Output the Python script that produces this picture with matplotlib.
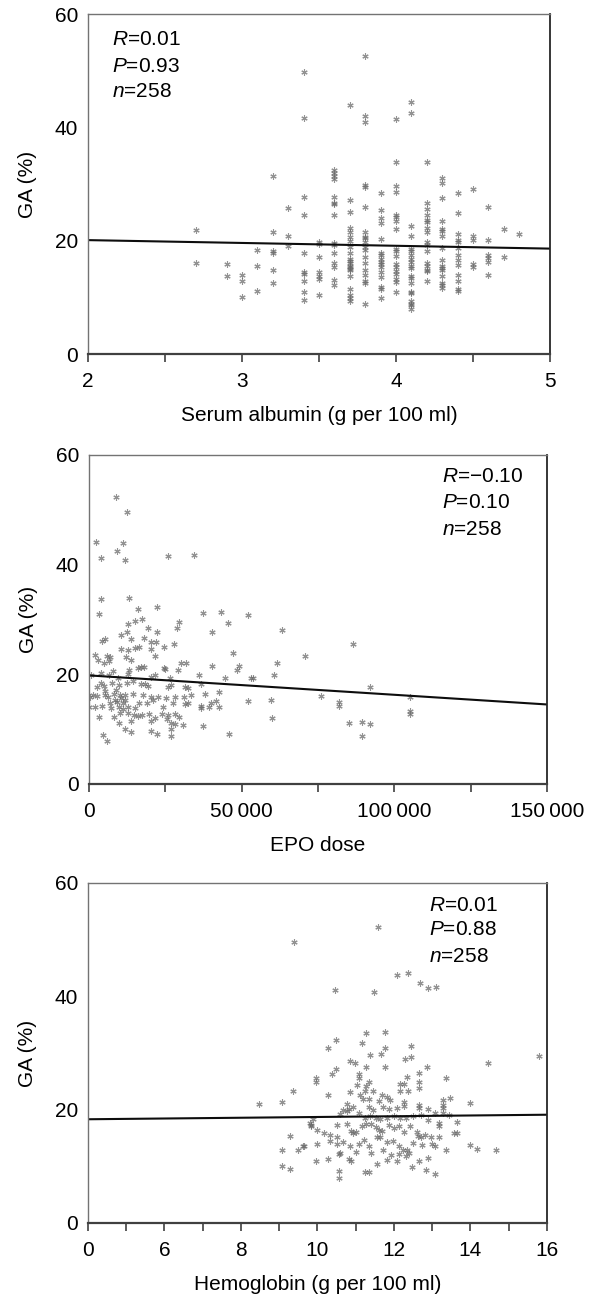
import matplotlib
matplotlib.use("Agg")
import matplotlib.pyplot as plt
from matplotlib.ticker import FixedLocator, FuncFormatter

plt.rcParams["font.family"] = ["Liberation Sans", "DejaVu Sans"]
plt.rcParams["mathtext.fontset"] = "custom"
plt.rcParams["mathtext.rm"] = "Liberation Sans"
plt.rcParams["mathtext.it"] = "Liberation Sans:italic"

FS = 15

# ---- Serum albumin vs GA ----
albumin_x = ([2.7] * 2 + [2.9] * 2 + [3.0] * 3 + [3.1] * 3 + [3.2] * 6 + [3.3] * 3
             + [3.4] * 10 + [3.5] * 7 + [3.6] * 15 + [3.7] * 21 + [3.8] * 19
             + [3.9] * 16 + [4.0] * 18 + [4.1] * 20 + [4.2] * 16 + [4.3] * 16
             + [4.4] * 13 + [4.5] * 5 + [4.6] * 6 + [4.7] * 2 + [4.8] * 1)
albumin_ga = [
    21.8, 16.1,
    15.8, 13.8,
    13.9, 12.9, 10.1,
    18.4, 15.6, 11.2,
    31.4, 21.5, 18.1, 17.9, 14.8, 12.6,
    25.8, 20.9, 19.1,
    49.8, 41.7, 27.7, 24.5, 17.8, 14.4, 14.2, 12.9, 10.9, 9.6,
    19.8, 19.5, 17.2, 14.5, 13.8, 13.3, 10.5,
    32.4, 31.9, 31.4, 30.9, 27.7, 26.7, 26.4, 24.5, 19.6, 19.2, 17.9, 16.0, 15.3, 13.1, 12.1,
    43.9, 27.1, 25.0, 22.2, 21.6, 20.7, 19.9, 18.9, 17.9, 16.7, 16.4, 16.1, 15.5, 15.3, 15.0,
    14.8, 13.8, 11.4, 10.4, 9.8, 9.3,
    52.6, 42.0, 41.0, 29.9, 29.5, 25.9, 21.6, 20.7, 20.4, 19.8, 18.9, 18.3, 17.2, 16.1, 14.8,
    13.9, 12.9, 12.5, 8.9,
    28.4, 25.5, 24.0, 23.2, 20.3, 17.8, 17.5, 16.7, 16.2, 15.9, 15.3, 14.4, 13.6, 11.9, 11.5, 9.8,
    41.4, 33.8, 29.6, 28.6, 24.6, 24.2, 23.4, 22.1, 18.5, 18.1, 17.3, 15.8, 15.4, 14.6, 14.1,
    13.2, 12.7, 11.0,
    44.4, 42.6, 22.6, 20.9, 18.5, 18.1, 17.5, 16.8, 16.2, 15.6, 15.2, 13.8, 13.5, 12.5, 10.9,
    10.7, 9.3, 8.7, 8.0, 8.9,
    33.9, 26.6, 25.6, 24.6, 23.6, 23.3, 22.2, 21.5, 19.8, 19.3, 18.1, 16.0, 15.6, 14.9, 14.6, 12.8,
    31.1, 30.1, 27.6, 23.4, 22.0, 21.7, 20.8, 18.7, 16.6, 15.5, 15.2, 14.9, 13.8, 12.6, 12.1, 11.6,
    28.5, 24.9, 21.2, 20.1, 19.8, 18.7, 17.5, 16.6, 15.7, 13.9, 12.8, 11.4, 11.1,
    29.1, 20.9, 20.1, 15.8, 15.3,
    25.9, 20.2, 17.4, 17.0, 16.2, 13.9,
    22.0, 17.1,
    21.1,
]
albumin_fit_x = [2, 5]
albumin_fit_y = [20.1, 18.6]

# ---- EPO dose vs GA ----
epo_x = [
    8770, 12470, 2250, 11000, 9010, 4090, 11730, 26000, 34260,
    61700, 63200, 60500, 59700, 60000, 70800, 76100, 82000, 82000, 85000, 86300,
    89300, 89300, 92100, 92100, 105000, 105000, 105000,
    3820, 12990, 3160, 16050, 22380, 37450, 43130, 52090, 45530,
    14960, 17360, 12780, 12550, 19330, 22380, 29370, 28940, 40290,
    10590, 13650, 5350, 4260, 18020, 20420, 21950, 27840, 24570, 47280,
    10590, 12780, 14960, 16490, 20200, 2070, 2950, 6000, 6880, 12120, 21730,
    4910, 6440, 13870, 30030, 31770, 40290, 49030, 48590,
    17140, 18020, 16050, 24570, 25000, 12990, 29150, 7750,
    12780, 6440, 4040, 760, 35930, 44660, 52960, 53830,
    20200, 21510, 26530, 9500,
    4040, 4910, 7530, 9720, 12560, 14300, 16920, 18230, 19330, 25880, 26970,
    31340, 32430, 36800, 42690,
    1200, 2730, 5130, 6220, 8190, 10150, 11900, 14520, 17800, 20420, 22600,
    25220, 28060, 31120, 33520, 37890, 40070, 41600, 36580, 52090,
    110, 1850, 4260, 6880, 9280, 11030, 9940, 11030, 10150, 12780, 14960,
    16270, 18890, 21070, 24350, 27620, 31340, 32430, 39200, 42690,
    3380, 8190, 12780, 14740, 16050, 17360, 19540, 21510, 23910, 25880, 28280, 29370,
    20420, 26750, 25440, 28280, 30900, 36800, 13650, 9720,
    11900, 13870, 20200, 22380, 26970, 26970, 37230, 45970, 4690, 6000,
    5130, 8840, 10590, 11680, 8410, 7310, 2730, 330,
]
epo_ga = [
    52.4, 49.6, 44.2, 43.9, 42.4, 41.2, 40.8, 41.6, 41.7,
    22.0, 28.1, 19.8, 15.4, 12.1, 23.4, 16.1, 15.0, 14.2, 11.2, 25.5,
    11.3, 8.8, 10.9, 17.7, 13.3, 12.8, 15.9,
    33.7, 33.9, 31.0, 31.9, 32.2, 31.2, 31.4, 30.8, 29.3,
    29.7, 30.0, 29.2, 27.8, 28.5, 27.7, 29.6, 28.4, 27.7,
    27.2, 26.4, 26.5, 26.1, 26.6, 25.9, 25.9, 25.6, 24.9, 23.9,
    24.6, 24.4, 24.8, 24.9, 24.6, 23.5, 22.6, 23.3, 23.2, 23.2, 23.4,
    22.1, 22.4, 22.6, 22.1, 22.0, 21.5, 21.6, 20.8,
    21.4, 21.3, 21.1, 21.2, 21.0, 20.8, 20.8, 20.6,
    20.1, 19.9, 20.2, 19.9, 19.9, 19.4, 19.4, 19.3,
    19.6, 19.9, 19.4, 19.4,
    18.4, 17.9, 18.4, 18.0, 18.4, 18.7, 18.2, 18.2, 17.9, 17.7, 18.0,
    17.7, 17.5, 18.2, 16.8,
    16.2, 16.0, 16.2, 15.8, 16.4, 16.2, 16.3, 16.5, 16.3, 15.9, 15.8,
    15.7, 15.8, 15.9, 16.2, 16.4, 14.7, 15.1, 14.3, 15.2,
    14.1, 14.1, 14.3, 14.7, 15.0, 14.7, 14.1, 13.6, 13.0, 14.1, 13.9,
    14.7, 14.8, 15.3, 14.1, 14.7, 14.6, 14.8, 14.1, 14.1,
    12.3, 12.3, 12.9, 12.6, 12.4, 12.5, 12.8, 12.0, 12.8, 12.5, 12.8, 12.3,
    11.4, 11.2, 11.8, 10.9, 10.8, 13.8, 11.4, 11.2,
    10.0, 9.5, 9.7, 9.2, 10.0, 8.75, 10.5, 9.1, 9.0, 7.9,
    17.0, 17.1, 15.6, 15.3, 15.4, 13.8, 17.7, 15.9,
]
epo_fit_x = [0, 150000]
epo_fit_y = [19.8, 14.5]

# ---- Hemoglobin vs GA ----
hb_x = [
    11.57, 9.39, 12.08, 12.37, 12.67, 12.88, 13.09, 10.47, 11.47, 14.47, 15.78,
    14.67, 14.18, 13.98, 13.98, 8.47, 9.08, 9.37, 9.28, 9.08, 9.08, 9.28, 9.49, 9.64, 9.84, 9.80,
    11.27, 11.77, 10.48, 10.27, 11.16, 11.77, 11.37, 11.65, 12.45, 12.28, 12.45,
    10.85, 10.97, 11.28, 11.77, 12.87, 12.66, 10.48, 10.38, 9.96, 9.96, 11.08, 11.08,
    12.35, 12.16, 12.26, 11.35, 11.28, 11.04, 11.46, 11.25, 12.16, 12.37, 12.66, 12.66, 13.36,
    10.27, 10.85, 11.11, 11.20, 11.34, 11.69, 11.83, 11.90, 11.60, 12.26, 12.26, 13.46,
    13.27, 13.27, 10.76, 10.94, 10.68, 10.76, 10.83, 11.34, 11.46, 11.72, 11.88, 12.07,
    12.66, 12.66, 12.89, 13.06, 13.29, 13.29, 13.45,
    10.59, 11.08, 11.23, 11.37, 11.53, 11.63, 11.83, 12.00, 12.16, 12.31, 12.50, 12.70,
    12.89, 13.17, 13.17, 13.65, 9.87, 9.82, 9.98, 10.17, 10.33, 10.50, 10.50, 10.76,
    10.87, 10.94, 11.02, 11.16, 11.28, 11.41, 11.53, 11.62, 11.69, 11.86, 12.00, 12.12,
    12.26, 12.42, 12.59, 12.64, 12.71, 12.82, 12.98, 13.17, 13.57, 13.66,
    9.63, 9.98, 10.34, 10.52, 10.68, 10.85, 11.08, 11.21, 11.35, 11.56, 11.63, 11.83,
    11.98, 12.14, 12.24, 12.33, 12.38, 12.49, 12.73, 13.00, 13.08, 13.36,
    10.59, 11.01, 11.41, 11.70, 11.91, 12.12, 12.31, 9.96, 10.27, 10.57, 10.83, 10.87,
    11.56, 11.83, 12.07, 12.47, 12.66, 12.89, 12.85, 13.06, 11.25, 11.34, 10.57, 10.57,
]
hb_ga = [
    52.3, 49.5, 43.7, 44.1, 42.3, 41.5, 41.6, 41.1, 40.8, 28.3, 29.4,
    12.8, 13.1, 13.8, 21.1, 21.0, 21.4, 23.3, 15.4, 12.9, 10.1, 9.5, 12.9, 13.6, 17.1, 17.6,
    33.5, 33.7, 32.2, 30.8, 31.7, 30.8, 29.6, 29.9, 31.2, 28.9, 29.2,
    28.5, 28.2, 27.5, 27.6, 27.6, 26.5, 27.1, 26.3, 25.5, 24.8, 26.2, 25.6,
    25.8, 24.5, 24.5, 24.9, 24.2, 24.3, 23.3, 23.3, 23.3, 23.3, 24.9, 23.8, 25.5,
    22.6, 23.1, 22.5, 21.9, 21.9, 22.5, 22.3, 21.7, 21.6, 21.4, 20.6, 22.1,
    21.7, 20.8, 21.0, 20.4, 20.0, 19.7, 20.1, 20.4, 20.0, 20.5, 20.1, 20.3,
    20.9, 20.2, 20.1, 19.4, 20.2, 19.4, 19.0,
    19.3, 19.4, 18.6, 18.8, 18.6, 18.3, 18.5, 18.8, 18.5, 18.6, 18.8, 19.1,
    18.2, 17.7, 17.1, 17.9, 18.4, 17.2, 16.4, 15.8, 15.6, 15.2, 17.2, 17.5,
    16.2, 15.8, 16.1, 17.1, 17.5, 17.4, 17.0, 16.4, 16.3, 17.2, 16.7, 17.1,
    16.0, 17.1, 16.0, 15.4, 15.1, 15.6, 15.1, 15.2, 15.9, 15.9,
    13.5, 14.0, 14.4, 14.0, 14.2, 13.5, 14.0, 14.6, 13.5, 15.1, 15.1, 14.2,
    14.4, 13.5, 12.9, 12.8, 12.4, 14.1, 13.7, 13.9, 13.6, 12.9,
    12.3, 12.6, 12.3, 12.8, 12.0, 12.2, 11.8, 11.0, 11.2, 12.2, 11.2, 11.0,
    10.4, 11.1, 10.9, 9.8, 11.0, 11.5, 9.4, 8.6, 9.0, 9.0, 9.1, 8.0,
]
hb_fit_x = [4, 16]
hb_fit_y = [18.3, 19.1]

stats = [
    ["0.01", "0.93", "258"],
    ["\u22120.10", "0.10", "258"],
    ["0.01", "0.88", "258"],
]


def style_axis(ax):
    ax.set_ylim(0, 60)
    ax.set_yticks([0, 20, 40, 60])
    ax.tick_params(axis="y", length=0, pad=7, labelsize=FS)
    ax.tick_params(axis="x", direction="out", length=6, width=1.2,
                   color="0.25", pad=7, labelsize=FS)
    ax.set_ylabel("GA (%)", fontsize=FS, labelpad=13)
    for side in ["left", "top"]:
        ax.spines[side].set_color("0.45")
        ax.spines[side].set_linewidth(1.0)
    ax.spines["right"].set_color("0.15")
    ax.spines["right"].set_linewidth(1.3)
    ax.spines["bottom"].set_color("0.25")
    ax.spines["bottom"].set_linewidth(1.6)


def scatter(ax, x, y, fx, fy):
    ax.plot(x, y, linestyle="none", marker=(6, 2, 0), markersize=4.5,
            markeredgewidth=0.8, color="0.4", alpha=0.7)
    ax.plot(fx, fy, color="0.05", linewidth=1.5)


def add_stats(ax, vals, x0, ys):
    names = ["R", "P", "n"]
    for name, v, yy in zip(names, vals, ys):
        ax.text(x0, 1 - yy, r"$\mathit{" + name + "}$=" + v, transform=ax.transAxes,
                ha="left", va="center", fontsize=FS)


fig = plt.figure(figsize=(5.91, 13.01), dpi=100)

# Panel 1
ax1 = fig.add_axes([0.1489, 0.7279, 0.7817, 0.2613])
scatter(ax1, albumin_x, albumin_ga, albumin_fit_x, albumin_fit_y)
ax1.set_xlim(2, 5)
ax1.xaxis.set_major_locator(FixedLocator([2, 2.5, 3, 3.5, 4, 4.5, 5]))
ax1.xaxis.set_major_formatter(FuncFormatter(lambda v, p: "%d" % v if v == int(v) else ""))
ax1.set_xlabel("Serum albumin (g per 100 ml)", fontsize=FS, labelpad=11)
style_axis(ax1)
add_stats(ax1, stats[0], 0.052, [0.076, 0.153, 0.229])

# Panel 2
ax2 = fig.add_axes([0.1506, 0.3974, 0.775, 0.2529])
scatter(ax2, epo_x, epo_ga, epo_fit_x, epo_fit_y)
ax2.set_xlim(0, 150000)
ax2.xaxis.set_major_locator(FixedLocator(list(range(0, 150001, 25000))))


def epo_fmt(v, p):
    v = int(round(v))
    if v % 50000:
        return ""
    if v == 0:
        return "0"
    return "%d\u2009%03d" % (v // 1000, v % 1000)


ax2.xaxis.set_major_formatter(FuncFormatter(epo_fmt))
ax2.set_xlabel("EPO dose", fontsize=FS, labelpad=11)
style_axis(ax2)
add_stats(ax2, stats[1], 0.771, [0.064, 0.143, 0.228])

# Panel 3
ax3 = fig.add_axes([0.1489, 0.0600, 0.7766, 0.2613])
scatter(ax3, hb_x, hb_ga, hb_fit_x, hb_fit_y)
ax3.set_xlim(4, 16)
ax3.xaxis.set_major_locator(FixedLocator(list(range(4, 17))))


def hb_fmt(v, p):
    v = int(round(v))
    if v == 4:
        return "0"
    return str(v) if v % 2 == 0 else ""


ax3.xaxis.set_major_formatter(FuncFormatter(hb_fmt))
ax3.set_xlabel("Hemoglobin (g per 100 ml)", fontsize=FS, labelpad=11)
style_axis(ax3)
add_stats(ax3, stats[2], 0.743, [0.065, 0.138, 0.215])

fig.savefig("out.png", dpi=100)
